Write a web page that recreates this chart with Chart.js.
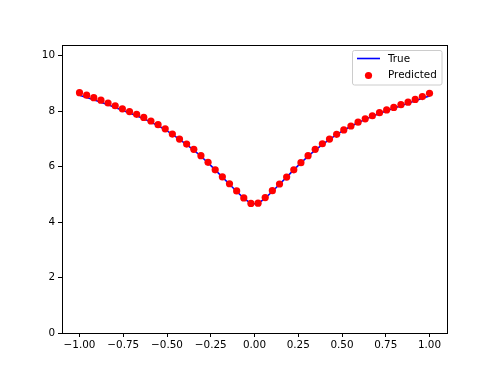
<!DOCTYPE html>
<html>
<head>
<meta charset="utf-8">
<script src="https://cdn.jsdelivr.net/npm/chart.js@4/dist/chart.umd.min.js"></script>
<style>
html,body{margin:0;padding:0;background:#fff;}
#wrap{width:498px;height:374px;}
</style>
</head>
<body>
<div id="wrap"><canvas id="c" width="498" height="374"></canvas></div>
<script>
const xValues = [-1.0000,-0.9592,-0.9184,-0.8776,-0.8367,-0.7959,-0.7551,-0.7143,-0.6735,-0.6327,
 -0.5918,-0.5510,-0.5102,-0.4694,-0.4286,-0.3878,-0.3469,-0.3061,-0.2653,-0.2245,
 -0.1837,-0.1429,-0.1020,-0.0612,-0.0204,0.0204,0.0612,0.1020,0.1429,0.1837,
 0.2245,0.2653,0.3061,0.3469,0.3878,0.4286,0.4694,0.5102,0.5510,0.5918,
 0.6327,0.6735,0.7143,0.7551,0.7959,0.8367,0.8776,0.9184,0.9592,1.0000];
const trueValues = [8.57,8.49,8.41,8.32,8.23,8.13,8.03,7.93,7.83,7.72,
 7.60,7.47,7.33,7.16,6.98,6.79,6.59,6.37,6.13,5.88,
 5.62,5.36,5.10,4.86,4.66,4.66,4.86,5.10,5.36,5.62,
 5.88,6.13,6.37,6.59,6.79,6.98,7.15,7.31,7.45,7.58,
 7.70,7.81,7.91,8.01,8.10,8.19,8.28,8.37,8.46,8.54];
const predictedValues = [8.66,8.57,8.48,8.39,8.29,8.19,8.08,7.98,7.88,7.77,
 7.64,7.51,7.36,7.17,6.99,6.81,6.62,6.39,6.15,5.88,
 5.63,5.38,5.12,4.87,4.67,4.68,4.88,5.13,5.37,5.62,
 5.88,6.14,6.39,6.62,6.82,6.99,7.16,7.32,7.46,7.60,
 7.72,7.83,7.94,8.04,8.13,8.23,8.32,8.42,8.52,8.64];
const xTicks = [-1.00,-0.75,-0.50,-0.25,0.00,0.25,0.50,0.75,1.00];
const yTicks = [0,2,4,6,8,10];
const seriesLabels = ['True','Predicted'];

const FONT = '"DejaVu Sans", sans-serif';
const FSIZE = 10.4;
const fmtX = v => (v < 0 ? '\u2212' : '') + Math.abs(v).toFixed(2);

const framePlugin = {
  id: 'frame',
  afterDraw(chart) {
    const {ctx, chartArea: a} = chart;
    ctx.save();
    ctx.strokeStyle = '#000';
    ctx.lineWidth = 1;
    ctx.strokeRect(Math.round(a.left) + 0.5, Math.round(a.top) + 0.5,
      Math.round(a.right - a.left), Math.round(a.bottom - a.top));
    // legend
    const bx = 352.5, by = 50.5, bw = 89.5, bh = 34.5;
    ctx.fillStyle = 'rgba(255,255,255,0.8)';
    ctx.strokeStyle = '#cccccc';
    ctx.beginPath();
    ctx.roundRect(bx, by, bw, bh, 2);
    ctx.fill();
    ctx.stroke();
    ctx.strokeStyle = '#0000ff';
    ctx.lineWidth = 1.6;
    ctx.beginPath();
    ctx.moveTo(357, 58.5);
    ctx.lineTo(380, 58.5);
    ctx.stroke();
    ctx.fillStyle = '#ff0000';
    ctx.beginPath();
    ctx.arc(368.5, 75.5, 3.6, 0, Math.PI * 2);
    ctx.fill();
    ctx.fillStyle = '#000';
    ctx.font = FSIZE + 'px ' + FONT;
    ctx.textBaseline = 'middle';
    ctx.textAlign = 'left';
    ctx.fillText(chart.data.datasets[0].label, 388, 59);
    ctx.fillText(chart.data.datasets[1].label, 388, 75.5);
    ctx.restore();
  }
};

new Chart(document.getElementById('c'), {
  type: 'scatter',
  data: {
    datasets: [
      {
        label: seriesLabels[0],
        data: xValues.map((x, i) => ({x, y: trueValues[i]})),
        showLine: true,
        borderColor: '#0000ff',
        borderWidth: 1.6,
        pointRadius: 0,
        pointHoverRadius: 0,
        tension: 0,
        order: 2
      },
      {
        label: seriesLabels[1],
        data: xValues.map((x, i) => ({x, y: predictedValues[i]})),
        backgroundColor: '#ff0000',
        borderWidth: 0,
        pointRadius: 3.6,
        pointHoverRadius: 3.6,
        order: 1
      }
    ]
  },
  options: {
    responsive: false,
    animation: false,
    events: [],
    layout: {padding: {left: 0, right: 51, top: 45, bottom: 0}},
    plugins: {legend: {display: false}, tooltip: {enabled: false}},
    scales: {
      x: {
        type: 'linear',
        min: -1.1, max: 1.1,
        afterBuildTicks: s => { s.ticks = xTicks.map(v => ({value: v})); },
        afterFit: s => { s.height = 41; },
        ticks: {callback: v => fmtX(v), color: '#000', font: {family: FONT, size: FSIZE}, padding: 2, maxRotation: 0, autoSkip: false},
        grid: {drawOnChartArea: false, tickLength: 4, color: '#000', tickWidth: 1},
        border: {display: true, color: '#000', width: 1}
      },
      y: {
        type: 'linear',
        min: 0, max: 10.38,
        afterBuildTicks: s => { s.ticks = yTicks.map(v => ({value: v})); },
        afterFit: s => { s.width = 62; },
        ticks: {callback: v => String(v), color: '#000', font: {family: FONT, size: FSIZE}, padding: 3, autoSkip: false},
        grid: {drawOnChartArea: false, tickLength: 4, color: '#000', tickWidth: 1},
        border: {display: true, color: '#000', width: 1}
      }
    }
  },
  plugins: [framePlugin]
});
</script>
</body>
</html>
